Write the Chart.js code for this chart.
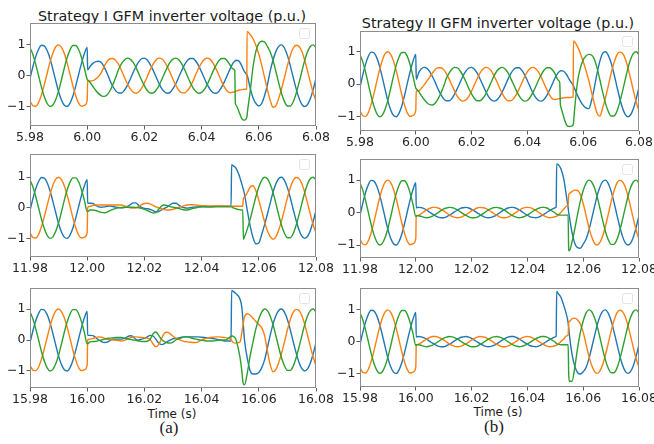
<!DOCTYPE html>
<html>
<head>
<meta charset="utf-8">
<script src="https://cdn.jsdelivr.net/npm/chart.js@4.4.1/dist/chart.umd.min.js"></script>
<style>
  body { margin: 0; width: 654px; height: 444px; background: #fff; position: relative; overflow: hidden; font-family: "DejaVu Sans", sans-serif; }
  canvas { position: absolute; }
  .txt { position: absolute; white-space: nowrap; text-align: center; line-height: 1; color: #1a1a1a; }
  .cap { font-family: "Liberation Serif", serif; }
</style>
</head>
<body>
<div class="txt" style="left:-28px;width:400px;top:8.6px;font-size:14.3px">Strategy I GFM inverter voltage (p.u.)</div>
<div class="txt" style="left:298px;width:400px;top:15.6px;font-size:14.3px">Strategy II GFM inverter voltage (p.u.)</div>
<div class="txt" style="left:72px;width:200px;top:407.5px;font-size:12px">Time (s)</div>
<div class="txt" style="left:398px;width:200px;top:406.2px;font-size:12px">Time (s)</div>
<div class="txt cap" style="left:69px;width:200px;top:419px;font-size:17px">(a)</div>
<div class="txt cap" style="left:394px;width:200px;top:417.6px;font-size:17px">(b)</div>

<canvas id="l1"></canvas>
<canvas id="r1"></canvas>
<canvas id="l2"></canvas>
<canvas id="r2"></canvas>
<canvas id="l3"></canvas>
<canvas id="r3"></canvas>

<script>
// time is in ms from the left edge of each window (window = 100 ms)
// phase A = blue, B = orange, C = green

// before the fault (same in all six runs)
const preMs = [0,1,2,3,4,5,6,7,8,9,10,11,12,13,14,15,16,17,18,19,20];
const preA = [-0.09,0.29,0.62,0.86,0.99,0.97,0.82,0.56,0.21,-0.16,-0.52,-0.79,-0.96,-1.00,-0.89,-0.66,-0.33,0.04,0.40,0.71,0.92];
const preB = [-0.82,-0.97,-0.99,-0.87,-0.62,-0.29,0.08,0.44,0.74,0.94,1.00,0.92,0.72,0.41,0.05,-0.33,-0.65,-0.89,-0.99,-0.96,-0.80];
const preC = [0.91,0.69,0.37,0.00,-0.37,-0.68,-0.90,-1.00,-0.95,-0.77,-0.49,-0.13,0.25,0.59,0.84,0.98,0.98,0.85,0.59,0.25,-0.12];

// after recovery (same in all six runs)
const tailMs = [87,88,89,90,91,92,93,94,95,96,97,98,99,100];
const tailA = [0.96,1.00,0.89,0.66,0.33,-0.04,-0.40,-0.71,-0.92,-1.00,-0.94,-0.75,-0.45,-0.09];
const tailB = [-0.72,-0.41,-0.05,0.33,0.65,0.89,0.99,0.96,0.80,0.52,0.17,-0.20,-0.55,-0.82];
const tailC = [-0.25,-0.59,-0.84,-0.98,-0.98,-0.85,-0.59,-0.25,0.12,0.48,0.77,0.95,1.00,0.91];

// Strategy I, t = 5.98 s
const l1Ms = [20.15,21,22,23,24,25,26,27,28,29,30,31,32,33,34,35,36,37,38,39,40,41,42,43,44,45,46,47,48,49,50,51,52,53,54,55,56,57,58,59,60,61,62,63,64,65,66,67,68,69,70,71,71.6,71.8,72,73,74,75,75.8,75.9,76,77,78,79,80,81,82,83,84,85,86];
const l1A = [0.19,0.30,0.40,0.46,0.47,0.42,0.27,0.07,-0.16,-0.35,-0.49,-0.56,-0.56,-0.47,-0.32,-0.12,0.09,0.29,0.45,0.55,0.57,0.51,0.37,0.19,-0.02,-0.23,-0.41,-0.52,-0.57,-0.54,-0.42,-0.26,-0.05,0.16,0.35,0.49,0.56,0.56,0.47,0.32,0.12,-0.09,-0.29,-0.45,-0.55,-0.57,-0.51,-0.37,-0.19,0.02,0.23,0.41,0.47,0.49,0.50,0.48,0.33,0.13,0.04,0.03,0.00,-0.40,-0.72,-0.90,-0.98,-0.90,-0.65,-0.30,0.16,0.52,0.79];
const l1B = [-0.15,-0.17,-0.16,-0.10,-0.02,0.12,0.31,0.47,0.55,0.56,0.49,0.36,0.17,-0.05,-0.25,-0.42,-0.53,-0.57,-0.53,-0.41,-0.23,-0.03,0.19,0.37,0.50,0.57,0.55,0.46,0.30,0.10,-0.12,-0.31,-0.47,-0.55,-0.56,-0.49,-0.36,-0.17,0.05,0.25,0.42,0.53,0.57,0.53,0.41,0.23,0.03,-0.19,-0.37,-0.50,-0.55,-0.53,-0.52,-0.51,-0.50,-0.47,-0.45,-0.44,-0.43,1.43,1.43,1.33,1.20,0.98,0.70,0.35,-0.05,-0.45,-0.80,-1.02,-0.97];
const l1C = [-0.14,-0.22,-0.35,-0.48,-0.58,-0.65,-0.67,-0.62,-0.48,-0.28,-0.05,0.21,0.39,0.51,0.57,0.54,0.44,0.28,0.07,-0.14,-0.33,-0.48,-0.56,-0.56,-0.48,-0.34,-0.14,0.07,0.27,0.44,0.54,0.57,0.52,0.39,0.21,0.00,-0.21,-0.39,-0.51,-0.57,-0.54,-0.44,-0.28,-0.07,0.14,0.33,0.48,0.56,0.56,0.48,0.34,0.22,0.17,-0.90,-0.95,-1.15,-1.38,-1.44,-1.35,-1.30,-1.20,-0.50,0.30,0.80,1.05,1.12,1.10,0.95,0.77,0.49,0.13];

// Strategy II, t = 5.98 s
const r1Ms = [20.15,21,22,23,24,25,26,27,28,29,30,31,32,33,34,35,36,37,38,39,40,41,42,43,44,45,46,47,48,49,50,51,52,53,54,55,56,57,58,59,60,61,62,63,64,65,66,67,68,69,70,71,71.6,71.8,72,73,74,75,76,76.4,76.5,77,78,79,80,81,82,83,84,85,86];
const r1A = [0.15,0.35,0.48,0.52,0.49,0.39,0.23,0.05,-0.15,-0.32,-0.45,-0.51,-0.51,-0.43,-0.29,-0.11,0.08,0.27,0.41,0.50,0.52,0.46,0.34,0.17,-0.02,-0.21,-0.37,-0.48,-0.52,-0.49,-0.39,-0.23,-0.05,0.15,0.32,0.45,0.51,0.51,0.43,0.29,0.11,-0.08,-0.27,-0.41,-0.50,-0.52,-0.46,-0.34,-0.17,0.02,0.21,0.35,0.40,0.41,0.42,0.40,0.30,0.15,0.02,-0.03,-0.05,-0.15,-0.35,-0.52,-0.65,-0.73,-0.75,-0.50,-0.10,0.35,0.72];
const r1B = [-0.22,-0.20,-0.12,-0.02,0.10,0.22,0.35,0.46,0.51,0.51,0.45,0.32,0.15,-0.04,-0.23,-0.39,-0.49,-0.52,-0.48,-0.37,-0.21,-0.02,0.17,0.34,0.46,0.52,0.50,0.42,0.27,0.09,-0.11,-0.29,-0.43,-0.51,-0.51,-0.45,-0.32,-0.15,0.04,0.23,0.39,0.49,0.52,0.48,0.37,0.21,0.02,-0.17,-0.34,-0.45,-0.47,-0.45,-0.44,-0.43,-0.43,-0.42,-0.41,-0.41,-0.40,-0.39,1.33,1.30,1.15,0.95,0.70,0.42,0.12,-0.25,-0.60,-0.90,-0.98];
const r1C = [-0.14,-0.22,-0.35,-0.47,-0.57,-0.63,-0.64,-0.58,-0.45,-0.27,-0.06,0.19,0.35,0.47,0.52,0.50,0.40,0.25,0.07,-0.13,-0.30,-0.44,-0.51,-0.51,-0.44,-0.31,-0.13,0.06,0.25,0.40,0.49,0.52,0.47,0.36,0.19,0.00,-0.19,-0.35,-0.47,-0.52,-0.50,-0.40,-0.25,-0.07,0.13,0.30,0.44,0.51,0.51,0.44,0.31,0.13,0.05,-0.60,-0.70,-1.00,-1.25,-1.30,-1.28,-1.25,-1.20,-0.70,0.10,0.50,0.75,0.87,0.92,0.90,0.77,0.49,0.13];

// Strategy I, t = 11.98 s
const l2Ms = [20.15,21,22,23,24,25,26,27,28,29,30,31,32,33,34,35,36,37,38,39,40,41,42,43,44,45,46,47,48,49,50,51,52,53,54,55,56,57,58,59,60,61,62,63,64,65,66,67,68,69,70,70.3,70.5,71,72,73,74,74.4,74.6,75,76,77,78,79,80,81,82,83,84,85,86];
const l2A = [0.15,0.15,0.14,0.08,0.03,0.02,0.03,0.05,0.06,0.04,0.02,0.01,0.00,0.01,0.04,0.10,0.16,0.16,0.08,0.01,-0.02,-0.03,-0.05,-0.09,-0.13,-0.12,-0.07,-0.02,0.03,0.10,0.15,0.15,0.09,0.03,0.00,-0.01,0.00,0.02,0.03,0.03,0.04,0.04,0.03,0.03,0.04,0.05,0.05,0.05,0.05,0.05,0.05,0.05,1.41,1.38,1.30,1.10,0.80,0.67,0.60,0.45,-0.10,-0.60,-0.98,-1.18,-1.15,-0.88,-0.56,-0.21,0.16,0.52,0.79];
const l2B = [0.00,0.05,0.08,0.09,0.09,0.09,0.09,0.09,0.09,0.09,0.09,0.09,0.09,0.06,0.03,0.00,-0.01,0.00,0.04,0.10,0.14,0.15,0.13,0.08,0.03,0.00,-0.03,-0.06,-0.07,-0.07,-0.05,-0.02,0.01,0.04,0.07,0.09,0.10,0.10,0.09,0.08,0.07,0.07,0.06,0.06,0.06,0.06,0.06,0.06,0.05,0.05,0.05,0.05,0.05,0.05,0.05,0.05,0.05,0.05,0.30,0.35,0.50,0.68,0.72,0.55,0.25,-0.10,-0.45,-0.75,-0.94,-1.03,-0.95];
const l2C = [-0.12,-0.07,-0.07,-0.09,-0.12,-0.15,-0.16,-0.14,-0.09,-0.05,-0.02,0.00,0.01,0.02,0.02,0.02,0.02,0.01,0.00,-0.02,-0.05,-0.09,-0.13,-0.17,-0.16,-0.05,0.06,0.09,0.07,0.04,0.02,0.00,-0.02,-0.05,-0.07,-0.07,-0.05,-0.02,0.00,0.02,0.03,0.03,0.03,0.03,0.03,0.03,0.03,0.03,0.03,0.03,0.03,0.03,0.03,0.00,-0.03,-0.06,-0.07,-0.07,-1.03,-0.95,-0.69,-0.37,0.00,0.37,0.68,0.90,1.00,0.95,0.77,0.49,0.13];

// Strategy II, t = 11.98 s
const r2Ms = [20.15,21,22,23,24,25,26,27,28,29,30,31,32,33,34,35,36,37,38,39,40,41,42,43,44,45,46,47,48,49,50,51,52,53,54,55,56,57,58,59,60,61,62,63,64,65,66,67,68,69,70,70.3,70.5,71,72,73,74,74.6,74.8,75,76,77,78,79,80,81,82,83,84,85,86];
const r2A = [0.15,0.16,0.15,0.12,0.07,0.01,-0.05,-0.10,-0.14,-0.16,-0.16,-0.13,-0.09,-0.03,0.03,0.08,0.13,0.15,0.16,0.14,0.10,0.05,-0.01,-0.06,-0.11,-0.15,-0.16,-0.15,-0.12,-0.07,-0.01,0.05,0.10,0.14,0.16,0.16,0.13,0.09,0.03,-0.03,-0.08,-0.13,-0.15,-0.16,-0.14,-0.10,-0.05,0.01,0.06,0.11,0.15,0.17,1.50,1.48,1.35,1.05,0.50,0.15,0.00,-0.10,-0.62,-0.95,-1.08,-1.10,-0.97,-0.82,-0.56,-0.21,0.16,0.52,0.79];
const r2B = [-0.13,-0.08,-0.03,0.03,0.09,0.13,0.16,0.16,0.14,0.10,0.05,-0.01,-0.07,-0.12,-0.15,-0.16,-0.15,-0.11,-0.07,-0.01,0.05,0.10,0.14,0.16,0.15,0.13,0.08,0.03,-0.03,-0.09,-0.13,-0.16,-0.16,-0.14,-0.10,-0.05,0.01,0.07,0.12,0.15,0.16,0.15,0.11,0.07,0.01,-0.05,-0.10,-0.14,-0.16,-0.15,-0.13,-0.12,-0.11,-0.08,0.00,0.10,0.20,0.24,0.55,0.58,0.65,0.69,0.68,0.55,0.28,-0.08,-0.44,-0.74,-0.94,-1.00,-0.92];
const r2C = [-0.10,-0.10,-0.12,-0.15,-0.16,-0.14,-0.11,-0.06,0.00,0.06,0.11,0.14,0.16,0.15,0.12,0.08,0.02,-0.04,-0.09,-0.13,-0.16,-0.16,-0.14,-0.09,-0.04,0.02,0.08,0.12,0.15,0.16,0.14,0.11,0.06,0.00,-0.06,-0.11,-0.14,-0.16,-0.15,-0.12,-0.08,-0.02,0.04,0.09,0.13,0.16,0.16,0.14,0.09,0.04,-0.02,-0.04,-0.05,-0.07,-0.08,-0.08,-0.08,-0.08,-1.15,-1.18,-0.90,-0.50,-0.05,0.36,0.68,0.90,1.00,0.95,0.77,0.49,0.13];

// Strategy I, t = 15.98 s
const l3Ms = [20.15,21,22,23,24,25,26,27,28,29,30,31,32,33,34,35,36,37,38,39,40,41,42,43,44,45,46,47,48,49,50,51,52,53,54,55,56,57,58,59,60,61,62,63,64,65,66,67,68,69,70,70.3,70.5,71,72,73,73.5,74,74.5,75,76,77,78,79,80,81,82,83,84,85,86];
const l3A = [0.15,0.15,0.14,0.08,0.00,-0.05,-0.08,-0.07,-0.02,0.03,0.03,0.03,0.03,0.05,0.10,0.14,0.12,0.02,0.00,0.03,0.05,0.10,0.15,0.13,0.03,-0.10,-0.15,-0.12,-0.05,0.00,0.04,0.05,0.07,0.09,0.10,0.10,0.10,0.10,0.10,0.10,0.09,0.08,0.07,0.06,0.05,0.03,0.01,-0.01,-0.03,-0.03,-0.03,-0.03,1.60,1.58,1.50,1.40,1.30,1.10,0.60,0.00,-0.60,-1.00,-1.10,-1.10,-1.05,-0.90,-0.65,-0.25,0.16,0.52,0.79];
const l3B = [0.00,0.03,0.05,0.08,0.10,0.09,0.06,0.03,0.01,0.00,-0.01,-0.02,-0.03,-0.01,0.03,0.07,0.10,0.10,0.09,0.08,0.07,0.06,0.02,-0.12,-0.22,-0.15,0.05,0.22,0.25,0.20,0.12,0.06,0.02,-0.02,-0.05,-0.06,-0.07,-0.08,-0.08,-0.05,0.00,0.04,0.06,0.08,0.09,0.10,0.10,0.09,0.08,0.07,0.03,0.00,-0.02,-0.08,-0.10,-0.08,-0.05,0.20,0.50,0.75,0.85,0.80,0.70,0.60,0.50,0.40,0.15,-0.35,-0.80,-1.03,-0.95];
const l3C = [-0.12,-0.06,-0.05,-0.04,-0.02,0.00,0.03,0.05,0.06,0.07,0.08,0.08,0.08,0.06,0.04,0.02,0.00,-0.01,-0.03,-0.05,-0.05,-0.04,0.02,0.20,0.26,0.15,0.02,-0.05,-0.09,-0.10,-0.07,0.00,0.04,0.07,0.10,0.10,0.08,0.05,0.03,0.01,-0.01,-0.02,-0.03,-0.03,-0.03,-0.02,0.00,0.00,0.00,0.03,0.10,0.12,0.14,0.12,0.02,-0.35,-0.60,-0.95,-1.38,-1.45,-1.05,-0.50,-0.05,0.37,0.68,0.90,1.00,0.95,0.77,0.49,0.13];

// Strategy II, t = 15.98 s
const r3Ms = [20.15,21,22,23,24,25,26,27,28,29,30,31,32,33,34,35,36,37,38,39,40,41,42,43,44,45,46,47,48,49,50,51,52,53,54,55,56,57,58,59,60,61,62,63,64,65,66,67,68,69,70,70.3,70.5,71,72,73,74,74.6,74.8,75,76,77,78,79,80,81,82,83,84,85,86];
const r3A = [0.15,0.16,0.15,0.12,0.07,0.01,-0.05,-0.10,-0.14,-0.16,-0.16,-0.13,-0.09,-0.03,0.03,0.08,0.13,0.15,0.16,0.14,0.10,0.05,-0.01,-0.06,-0.11,-0.15,-0.16,-0.15,-0.12,-0.07,-0.01,0.05,0.10,0.14,0.16,0.16,0.13,0.09,0.03,-0.03,-0.08,-0.13,-0.15,-0.16,-0.14,-0.10,-0.05,0.01,0.06,0.11,0.15,0.17,1.58,1.52,1.40,1.15,0.85,0.60,0.45,0.25,-0.40,-0.78,-0.98,-1.02,-0.95,-0.82,-0.56,-0.21,0.16,0.52,0.79];
const r3B = [-0.13,-0.08,-0.03,0.03,0.09,0.13,0.16,0.16,0.14,0.10,0.05,-0.01,-0.07,-0.12,-0.15,-0.16,-0.15,-0.11,-0.07,-0.01,0.05,0.10,0.14,0.16,0.15,0.13,0.08,0.03,-0.03,-0.09,-0.13,-0.16,-0.16,-0.14,-0.10,-0.05,0.01,0.07,0.12,0.15,0.16,0.15,0.11,0.07,0.01,-0.05,-0.10,-0.14,-0.16,-0.15,-0.13,-0.12,-0.11,-0.08,0.00,0.08,0.18,0.21,0.60,0.63,0.72,0.74,0.68,0.55,0.30,-0.08,-0.44,-0.74,-0.94,-1.00,-0.92];
const r3C = [-0.10,-0.10,-0.12,-0.15,-0.16,-0.14,-0.11,-0.06,0.00,0.06,0.11,0.14,0.16,0.15,0.12,0.08,0.02,-0.04,-0.09,-0.13,-0.16,-0.16,-0.14,-0.09,-0.04,0.02,0.08,0.12,0.15,0.16,0.14,0.11,0.06,0.00,-0.06,-0.11,-0.14,-0.16,-0.15,-0.12,-0.08,-0.02,0.04,0.09,0.13,0.16,0.16,0.14,0.09,0.04,-0.02,-0.05,-0.06,-0.08,-0.10,-0.10,-0.10,-0.10,-1.00,-1.25,-1.25,-0.80,-0.20,0.30,0.65,0.90,1.00,0.95,0.77,0.49,0.13];

// tick labels
const xTickMs = [0, 20, 40, 60, 80, 100];
const xLabelsTop = ['5.98', '6.00', '6.02', '6.04', '6.06', '6.08'];
const xLabelsMid = ['11.98', '12.00', '12.02', '12.04', '12.06', '12.08'];
const xLabelsBot = ['15.98', '16.00', '16.02', '16.04', '16.06', '16.08'];
const yTicks = [-1, 0, 1];
const yLabels = ['\u22121', '0', '1'];

const colA = '#1f77b4', colB = '#ff7f0e', colC = '#2ca02c';
const tickFont = { family: 'DejaVu Sans', size: 12.5 };

// plot box of each panel on the page, plus y range
const panels = [
  { id: 'l1', box: [30, 23, 316, 126], y: [-1.63, 1.71], ms: l1Ms, a: l1A, b: l1B, c: l1C, labels: xLabelsTop },
  { id: 'r1', box: [360, 31, 639, 131], y: [-1.44, 1.64], ms: r1Ms, a: r1A, b: r1B, c: r1C, labels: xLabelsTop },
  { id: 'l2', box: [30, 154, 316, 257], y: [-1.61, 1.76], ms: l2Ms, a: l2A, b: l2B, c: l2C, labels: xLabelsMid },
  { id: 'r2', box: [360, 159, 639, 258], y: [-1.40, 1.65], ms: r2Ms, a: r2A, b: r2B, c: r2C, labels: xLabelsMid },
  { id: 'l3', box: [30, 288, 316, 388], y: [-1.55, 1.68], ms: l3Ms, a: l3A, b: l3B, c: l3C, labels: xLabelsBot },
  { id: 'r3', box: [360, 288, 639, 387], y: [-1.43, 1.69], ms: r3Ms, a: r3A, b: r3B, c: r3C, labels: xLabelsBot }
];

const Y_AXIS_W = 30, X_AXIS_H = 22, PAD_T = 6, PAD_R = 18;

// axes frame and the empty legend box in the corner
const framePlugin = {
  id: 'frame',
  afterDraw(chart) {
    const { ctx, chartArea: a } = chart;
    ctx.save();
    ctx.strokeStyle = '#8c8c8c';
    ctx.lineWidth = 1;
    ctx.strokeRect(a.left + 0.5, a.top + 0.5, a.right - a.left - 1, a.bottom - a.top - 1);
    ctx.strokeStyle = '#e2e2e2';
    ctx.beginPath();
    ctx.roundRect(a.right - 16.5, a.top + 5.5, 10, 10, 2);
    ctx.stroke();
    ctx.restore();
  }
};

function toPoints(ms, vals) {
  return ms.map((m, i) => ({ x: m, y: vals[i] }));
}

panels.forEach(p => {
  const [left, top, right, bottom] = p.box;
  const cv = document.getElementById(p.id);
  const w = right - left + Y_AXIS_W + PAD_R;
  const h = bottom - top + PAD_T + X_AXIS_H;
  cv.width = w; cv.height = h;
  cv.style.left = (left - Y_AXIS_W) + 'px';
  cv.style.top = (top - PAD_T) + 'px';
  cv.style.width = w + 'px';
  cv.style.height = h + 'px';

  const ms = preMs.concat(p.ms, tailMs);
  const line = (vals, color, order) => ({
    data: toPoints(ms, vals),
    borderColor: color,
    borderWidth: 1.4,
    pointRadius: 0,
    fill: false,
    cubicInterpolationMode: 'monotone',
    order: order
  });

  new Chart(cv, {
    type: 'line',
    data: {
      datasets: [
        line(preA.concat(p.a, tailA), colA, 3),
        line(preB.concat(p.b, tailB), colB, 2),
        line(preC.concat(p.c, tailC), colC, 1)
      ]
    },
    options: {
      responsive: false,
      animation: false,
      events: [],
      layout: { padding: { left: 0, top: PAD_T, right: PAD_R, bottom: 0 } },
      plugins: { legend: { display: false }, tooltip: { enabled: false } },
      scales: {
        x: {
          type: 'linear',
          min: 0,
          max: 100,
          afterBuildTicks: s => { s.ticks = xTickMs.map(v => ({ value: v })); },
          afterFit: s => { s.height = X_AXIS_H; s.paddingLeft = 0; s.paddingRight = 0; },
          border: { display: false },
          grid: { drawOnChartArea: false, tickLength: 3.5, color: '#333', lineWidth: 0.8 },
          ticks: {
            callback: (v, i) => p.labels[i],
            font: tickFont,
            color: '#262626',
            padding: 1,
            maxRotation: 0,
            autoSkip: false
          }
        },
        y: {
          min: p.y[0],
          max: p.y[1],
          afterBuildTicks: s => { s.ticks = yTicks.map(v => ({ value: v })); },
          afterFit: s => { s.width = Y_AXIS_W; s.paddingTop = 0; s.paddingBottom = 0; },
          border: { display: false },
          grid: { drawOnChartArea: false, tickLength: 3.5, color: '#333', lineWidth: 0.8 },
          ticks: {
            callback: (v, i) => yLabels[i],
            font: tickFont,
            color: '#262626',
            padding: 1
          }
        }
      }
    },
    plugins: [framePlugin]
  });
});
</script>
</body>
</html>
